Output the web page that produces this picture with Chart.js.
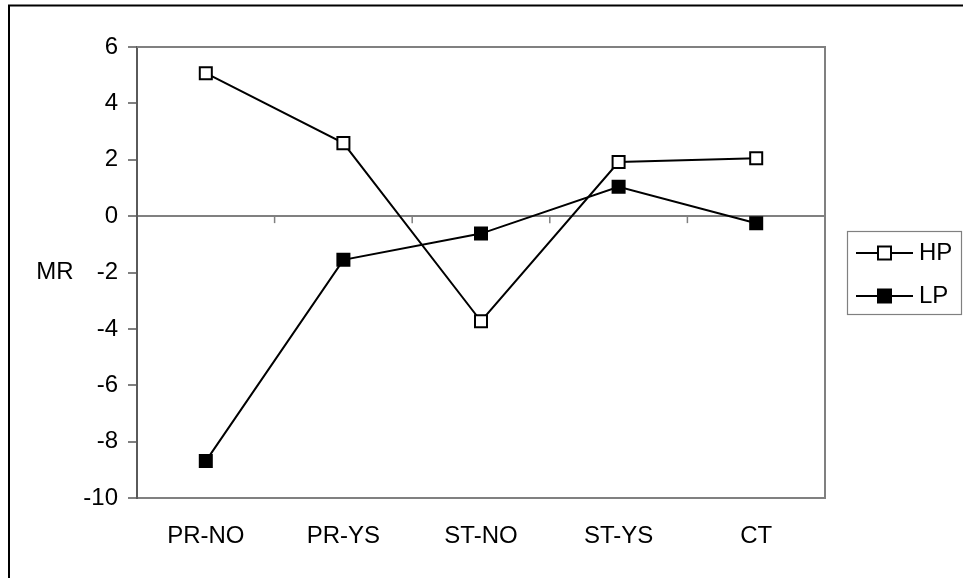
<!DOCTYPE html>
<html>
<head>
<meta charset="utf-8">
<script src="https://cdn.jsdelivr.net/npm/chart.js@4.4.0/dist/chart.umd.min.js"></script>
<style>
  html, body { margin: 0; padding: 0; background: #ffffff; }
  #wrap { position: relative; width: 963px; height: 578px; }
</style>
</head>
<body>
<div id="wrap"><canvas id="c" width="963" height="578"></canvas></div>
<script>
// ---- data ----
const categories = ['PR-NO', 'PR-YS', 'ST-NO', 'ST-YS', 'CT'];
const hpValues = [5.07, 2.59, -3.73, 1.92, 2.05];
const lpValues = [-8.69, -1.55, -0.62, 1.04, -0.25];
const seriesNames = ['HP', 'LP'];
const yMin = -10;
const yMax = 6;
const yStep = 2;
const yTitle = 'MR';

const FONT = "'Liberation Sans', Arial, sans-serif";
const FSIZE = 24;

const decor = {
  id: 'decor',
  afterDraw(chart) {
    const ctx = chart.ctx;
    const a = chart.chartArea;
    ctx.save();
    // outer frame (top and left)
    ctx.strokeStyle = '#000';
    ctx.lineWidth = 2;
    ctx.beginPath();
    ctx.moveTo(9, 578); ctx.lineTo(9, 5.5); ctx.lineTo(963, 5.5);
    ctx.stroke();
    // plot top & right border
    ctx.strokeStyle = '#808080';
    ctx.lineWidth = 2;
    ctx.beginPath();
    ctx.moveTo(a.left, a.top); ctx.lineTo(a.right, a.top); ctx.lineTo(a.right, a.bottom);
    ctx.stroke();
    // x ticks on zero line at category boundaries
    const xs = chart.scales.x, ys = chart.scales.y;
    const y0 = ys.getPixelForValue(0);
    ctx.lineWidth = 1.5;
    for (let i = 0; i < categories.length - 1; i++) {
      const xb = (xs.getPixelForValue(i) + xs.getPixelForValue(i + 1)) / 2;
      ctx.beginPath(); ctx.moveTo(xb, y0); ctx.lineTo(xb, y0 + 7); ctx.stroke();
    }
    // y title
    ctx.fillStyle = '#000';
    ctx.font = FSIZE + 'px ' + FONT;
    ctx.textAlign = 'center';
    ctx.textBaseline = 'middle';
    ctx.fillText(yTitle, 55, (a.top + a.bottom) / 2);
    // legend
    const lx = 847, ly = 231, lw = 114, lh = 83;
    ctx.strokeStyle = '#808080';
    ctx.lineWidth = 1.2;
    ctx.strokeRect(lx + 0.5, ly + 0.5, lw, lh);
    const rows = [253, 296];
    chart.data.datasets.forEach((ds, i) => {
      const yy = rows[i];
      ctx.strokeStyle = '#000';
      ctx.lineWidth = 2;
      ctx.beginPath(); ctx.moveTo(856, yy); ctx.lineTo(913, yy); ctx.stroke();
      ctx.fillStyle = ds.pointBackgroundColor;
      ctx.fillRect(878, yy - 6.5, 13, 13);
      ctx.strokeRect(878, yy - 6.5, 13, 13);
      ctx.fillStyle = '#000';
      ctx.textAlign = 'left';
      ctx.textBaseline = 'middle';
      ctx.fillText(ds.label, 919, yy);
    });
    ctx.restore();
  }
};

new Chart(document.getElementById('c'), {
  type: 'line',
  data: {
    labels: categories,
    datasets: [
      {
        label: seriesNames[0], data: hpValues,
        borderColor: '#000', borderWidth: 2, tension: 0,
        pointStyle: 'rect', pointRadius: 8.5, pointBorderWidth: 2,
        pointBackgroundColor: '#ffffff', pointBorderColor: '#000'
      },
      {
        label: seriesNames[1], data: lpValues,
        borderColor: '#000', borderWidth: 2, tension: 0,
        pointStyle: 'rect', pointRadius: 8.5, pointBorderWidth: 2,
        pointBackgroundColor: '#000000', pointBorderColor: '#000'
      }
    ]
  },
  options: {
    responsive: false,
    devicePixelRatio: 1,
    animation: false,
    layout: { padding: { left: 0, top: 47, right: 138, bottom: 0 } },
    plugins: { legend: { display: false }, tooltip: { enabled: false } },
    scales: {
      x: {
        offset: true,
        grid: { display: false },
        border: { display: true, color: '#808080', width: 2 },
        ticks: { color: '#000', font: { family: FONT, size: FSIZE }, padding: 16, maxRotation: 0 },
        afterFit: s => { s.height = 80; }
      },
      y: {
        min: yMin, max: yMax,
        ticks: { stepSize: yStep, color: '#000', font: { family: FONT, size: FSIZE }, padding: 10 },
        grid: {
          color: c => (c.tick && c.tick.value === 0) ? '#808080' : 'rgba(0,0,0,0)',
          lineWidth: 2, tickColor: '#808080', tickLength: 9, drawTicks: true, drawOnChartArea: true
        },
        border: { display: true, color: '#5a5a5a', width: 2 },
        afterFit: s => { s.width = 137; }
      }
    }
  },
  plugins: [decor]
});
</script>
</body>
</html>
